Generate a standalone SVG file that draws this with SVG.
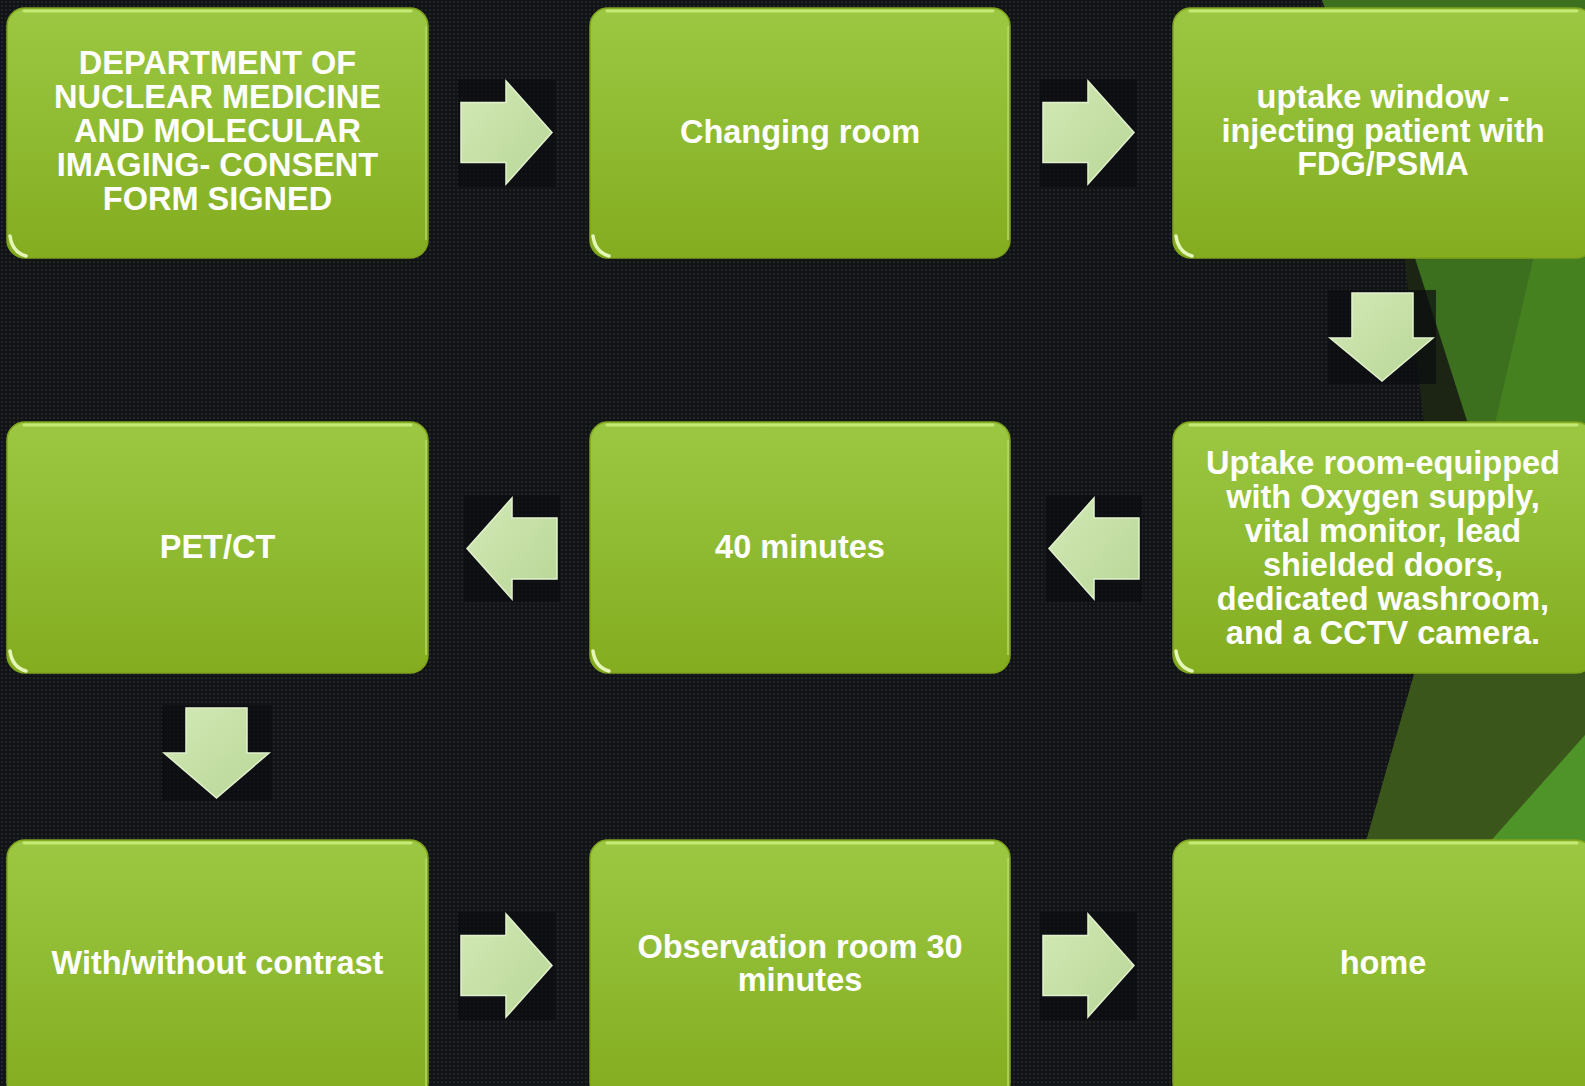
<svg xmlns="http://www.w3.org/2000/svg" width="1585" height="1086" viewBox="0 0 1585 1086">
  <defs>
    <pattern id="dots" width="4" height="4" patternUnits="userSpaceOnUse">
      <rect width="4" height="4" fill="#111315"/>
      <circle cx="2" cy="2" r="0.85" fill="#2f373e"/>
    </pattern>
    <linearGradient id="boxGrad" x1="0" y1="0" x2="0" y2="1">
      <stop offset="0" stop-color="#9cc742"/>
      <stop offset="0.5" stop-color="#8fbb32"/>
      <stop offset="1" stop-color="#84ac1f"/>
    </linearGradient>
    <linearGradient id="arrowGrad" x1="0" y1="0" x2="1" y2="1">
      <stop offset="0" stop-color="#d3e9b6"/>
      <stop offset="1" stop-color="#b8d696"/>
    </linearGradient>
    <style>
      .box { fill: url(#boxGrad); stroke: #7fa31c; stroke-width: 1.5; }
      .hl { fill: none; stroke: #cdf07c; stroke-width: 3; stroke-linecap: round; opacity: 0.85; }
      .corner { fill: none; stroke: #f0ffc8; stroke-width: 3.5; stroke-linecap: round; opacity: 0.9; }
      .edge { fill: none; stroke: #b6dc5c; stroke-width: 2; opacity: 0.7; }
      .lbl { font-family: "Liberation Sans", Arial, sans-serif; font-weight: bold; font-size: 32.5px; fill: #ffffff; text-anchor: middle; }
      .arrow { fill: url(#arrowGrad); stroke: #e2f1cd; stroke-width: 1.5; }
      .abg { fill: #0c0d0f; opacity: 0.7; }
    </style>
  </defs>

  <!-- background -->
  <rect width="1585" height="1086" fill="url(#dots)"/>
  <polygon points="1322,0 1585,0 1585,432 1470,432" fill="#3c6f1e"/>
  <polygon points="1540,230 1585,230 1585,432 1493,432" fill="#45821f"/>
  <polygon points="1404,255 1414,255 1468,424 1424,424" fill="#1c2513"/>
  <polygon points="1418,660 1585,660 1585,862 1360,862" fill="#3a561a"/>
  <polygon points="1585,735 1585,862 1472,862" fill="#4f9428"/>

  <!-- connectors -->
  <g id="connectors">
    <rect class="abg" x="458" y="79" width="97" height="108"/>
    <path class="arrow" d="M461,102.5 H506 V81 L552,132.5 L506,184 V162.5 H461 Z"/>
    <rect class="abg" x="1040" y="79" width="97" height="108"/>
    <path class="arrow" d="M1043,102.5 H1088 V81 L1134,132.5 L1088,184 V162.5 H1043 Z"/>
    <rect class="abg" x="1328" y="290" width="108" height="94"/>
    <path class="arrow" d="M1352,293 H1413 V338 H1433 L1382,381 L1330,338 H1352 Z"/>
    <rect class="abg" x="1046" y="495" width="96" height="107"/>
    <path class="arrow" d="M1139,518 H1094 V498 L1049,548.5 L1094,599 V579 H1139 Z"/>
    <rect class="abg" x="464" y="495" width="96" height="107"/>
    <path class="arrow" d="M557,518 H512 V498 L467,548.5 L512,599 V579 H557 Z"/>
    <rect class="abg" x="162" y="705" width="110" height="96"/>
    <path class="arrow" d="M186,708 H247 V753 H269 L216.5,798 L164,753 H186 Z"/>
    <rect class="abg" x="458" y="912" width="97" height="108"/>
    <path class="arrow" d="M461,935.5 H506 V914 L552,965.5 L506,1017 V995.5 H461 Z"/>
    <rect class="abg" x="1040" y="912" width="97" height="108"/>
    <path class="arrow" d="M1043,935.5 H1088 V914 L1134,965.5 L1088,1017 V995.5 H1043 Z"/>
  </g>

  <!-- nodes -->
  <g id="n1">
    <rect class="box" x="7" y="8" width="421" height="250" rx="18"/>
    <path class="hl" d="M24,11 H411"/>
    <path class="edge" d="M426,26 V240"/>
    <path class="corner" d="M10,236 Q12,252 26,256"/>
    <text class="lbl" x="217.5" y="74">DEPARTMENT OF</text>
    <text class="lbl" x="217.5" y="108">NUCLEAR MEDICINE</text>
    <text class="lbl" x="217.5" y="142">AND MOLECULAR</text>
    <text class="lbl" x="217.5" y="176">IMAGING- CONSENT</text>
    <text class="lbl" x="217.5" y="210">FORM SIGNED</text>
  </g>
  <g id="n2">
    <rect class="box" x="590" y="8" width="420" height="250" rx="18"/>
    <path class="hl" d="M607,11 H993"/>
    <path class="edge" d="M1008,26 V240"/>
    <path class="corner" d="M593,236 Q595,252 609,256"/>
    <text class="lbl" x="800" y="143">Changing room</text>
  </g>
  <g id="n3">
    <rect class="box" x="1173" y="8" width="421" height="250" rx="18"/>
    <path class="hl" d="M1190,11 H1577"/>
    <path class="corner" d="M1176,236 Q1178,252 1192,256"/>
    <text class="lbl" x="1383" y="108">uptake window -</text>
    <text class="lbl" x="1383" y="142">injecting patient with</text>
    <text class="lbl" x="1383" y="175">FDG/PSMA</text>
  </g>
  <g id="n4">
    <rect class="box" x="1173" y="422" width="421" height="251" rx="18"/>
    <path class="hl" d="M1190,425 H1577"/>
    <path class="corner" d="M1176,651 Q1178,667 1192,671"/>
    <text class="lbl" x="1383" y="473.5">Uptake room-equipped</text>
    <text class="lbl" x="1383" y="507.5">with Oxygen supply,</text>
    <text class="lbl" x="1383" y="541.5">vital monitor, lead</text>
    <text class="lbl" x="1383" y="575.5">shielded doors,</text>
    <text class="lbl" x="1383" y="609.5">dedicated washroom,</text>
    <text class="lbl" x="1383" y="643.5">and a CCTV camera.</text>
  </g>
  <g id="n5">
    <rect class="box" x="590" y="422" width="420" height="251" rx="18"/>
    <path class="hl" d="M607,425 H993"/>
    <path class="edge" d="M1008,440 V655"/>
    <path class="corner" d="M593,651 Q595,667 609,671"/>
    <text class="lbl" x="800" y="557.5">40 minutes</text>
  </g>
  <g id="n6">
    <rect class="box" x="7" y="422" width="421" height="251" rx="18"/>
    <path class="hl" d="M24,425 H411"/>
    <path class="edge" d="M426,440 V655"/>
    <path class="corner" d="M10,651 Q12,667 26,671"/>
    <text class="lbl" x="217.5" y="557.5">PET/CT</text>
  </g>
  <g id="n7">
    <rect class="box" x="7" y="840" width="421" height="260" rx="18"/>
    <path class="hl" d="M24,843 H411"/>
    <path class="edge" d="M426,858 V1086"/>
    <text class="lbl" x="217.5" y="974">With/without contrast</text>
  </g>
  <g id="n8">
    <rect class="box" x="590" y="840" width="420" height="260" rx="18"/>
    <path class="hl" d="M607,843 H993"/>
    <path class="edge" d="M1008,858 V1086"/>
    <text class="lbl" x="800" y="957.5">Observation room 30</text>
    <text class="lbl" x="800" y="991">minutes</text>
  </g>
  <g id="n9">
    <rect class="box" x="1173" y="840" width="421" height="260" rx="18"/>
    <path class="hl" d="M1190,843 H1577"/>
    <text class="lbl" x="1383" y="974">home</text>
  </g>
</svg>
